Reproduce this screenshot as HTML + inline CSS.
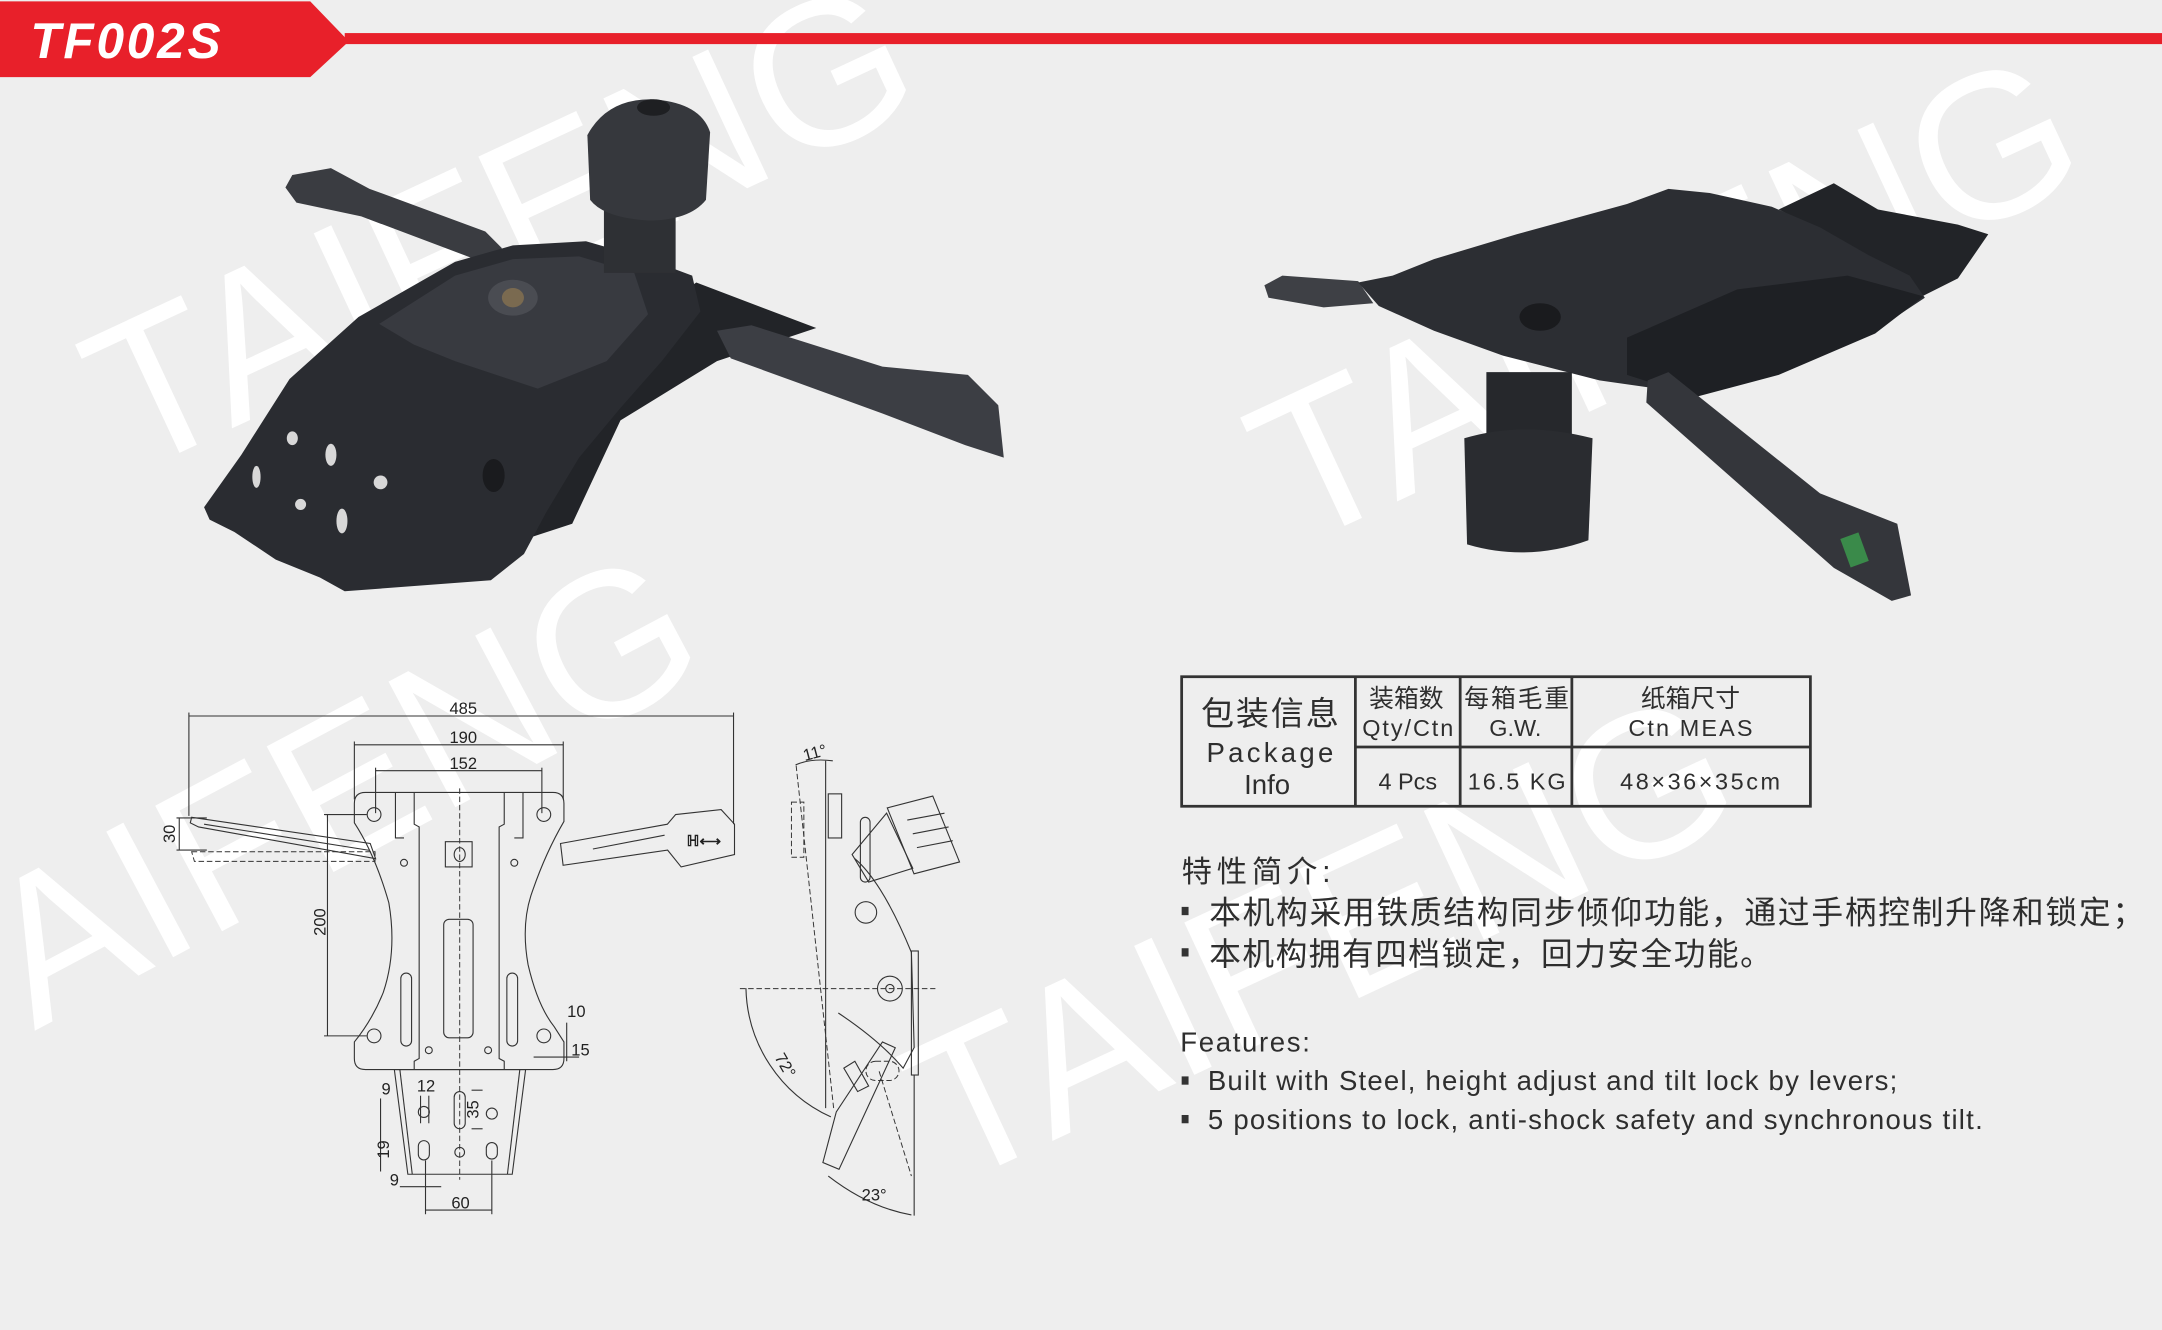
<!DOCTYPE html>
<html><head><meta charset="utf-8"><style>
html,body{margin:0;padding:0;background:#eeeeee;}
body{width:2162px;height:1330px;overflow:hidden;}
svg{display:block;}
text{font-family:"Liberation Sans","Noto Sans CJK SC",sans-serif;fill:#2e2e2e;}
.d{stroke:#333;stroke-width:0.8;fill:none;}
.dd{stroke:#333;stroke-width:0.7;fill:none;stroke-dasharray:4 2;}
.dim{font-size:12px;fill:#222;}
</style></head><body>
<svg width="2162" height="1330" viewBox="0 0 1568 965" preserveAspectRatio="none" xmlns="http://www.w3.org/2000/svg">
<rect width="1568" height="965" fill="#eeeeee"/>
<!-- watermarks -->
<g fill="#ffffff" style="font-family:'Liberation Sans',sans-serif;font-size:150px;">
<text x="95" y="345" transform="rotate(-25 95 345)" fill="#fff" style="fill:#fff">TAIFENG</text>
<text x="940" y="398" transform="rotate(-25 940 398)" style="fill:#fff">TAIFENG</text>
<text x="25" y="748" transform="rotate(-28 25 748)" style="fill:#fff">AIFENG</text>
<text x="690" y="862" transform="rotate(-25 690 862)" style="fill:#fff">TAIFENG</text>
</g>
<!-- header -->
<polygon points="0,1 225,1 253,30 225,56 0,56" fill="#e8202a"/>
<rect x="250" y="24" width="1318" height="8" fill="#e8202a"/>
<text x="22" y="42" style="fill:#fff;font-size:36px;font-weight:bold;font-style:italic" textLength="138">TF002S</text>

<!-- left product -->
<g>
<polygon points="207,136 212,127 240,122 268,137 352,168 364,180 355,192 262,157 215,147" fill="#3a3c41"/>
<polygon points="380,290 505,205 592,238 520,262 450,305 415,380 360,398" fill="#222428"/>
<polygon points="148,368 175,330 210,275 260,230 330,190 372,178 425,175 470,188 502,200 508,226 480,262 450,296 420,332 396,372 380,402 356,421 250,429 232,419 200,406 170,386 152,377" fill="#2a2c31"/>
<polygon points="275,235 330,200 372,188 420,186 460,198 470,228 440,262 390,282 330,262 300,250" fill="#383a40"/>
<ellipse cx="372" cy="216" rx="18" ry="13" fill="#4a4c52"/>
<ellipse cx="372" cy="216" rx="8" ry="7" fill="#7a6a50"/>
<polygon points="520,240 545,236 640,266 702,272 724,294 728,332 700,323 640,300 530,260" fill="#3c3e44"/>
<rect x="438" y="140" width="52" height="58" fill="#2e3034"/>
<path d="M426,98 Q440,72 472,72 Q508,74 515,96 L512,145 Q500,160 470,160 Q438,158 428,145 Z" fill="#36383d"/>
<ellipse cx="474" cy="78" rx="12" ry="6" fill="#1e1f22"/>
<g fill="#d8d8d8"><ellipse cx="212" cy="318" rx="4" ry="5"/><ellipse cx="240" cy="330" rx="4" ry="8"/><ellipse cx="186" cy="346" rx="3" ry="8"/><ellipse cx="218" cy="366" rx="4" ry="4"/><ellipse cx="248" cy="378" rx="4" ry="9"/><ellipse cx="276" cy="350" rx="5" ry="5"/></g>
<ellipse cx="358" cy="345" rx="8" ry="12" fill="#1a1b1e"/>
</g>

<!-- right product -->
<g>
<polygon points="1290,152 1330,133 1362,152 1420,163 1442,170 1420,202 1392,216 1360,188" fill="#222428"/>
<polygon points="917,207 930,200 985,204 996,220 960,223 920,216" fill="#3e4045"/>
<polygon points="985,205 1010,200 1040,188 1100,170 1180,148 1210,137 1240,140 1285,150 1320,165 1355,185 1385,200 1396,216 1360,240 1290,270 1230,286 1160,276 1090,258 1040,240 1000,222" fill="#2c2e33"/>
<polygon points="1180,245 1260,210 1340,200 1395,215 1360,242 1290,272 1230,288 1180,272" fill="#1e2024"/>
<ellipse cx="1117" cy="230" rx="15" ry="10" fill="#1a1b1e"/>
<rect x="1078" y="270" width="62" height="50" fill="#26282c"/>
<path d="M1062,318 Q1105,305 1155,318 L1152,392 Q1108,408 1064,395 Z" fill="#2a2c30"/>
<polygon points="1195,276 1210,270 1320,358 1376,380 1386,432 1372,436 1330,412 1194,292" fill="#34363b"/>
<rect x="1338" y="388" width="14" height="22" fill="#3a8a4a" transform="rotate(-20 1345 399)"/>
</g>

<!-- plan drawing -->
<g>
<line class="d" x1="137" y1="519.5" x2="532" y2="519.5"/>
<line class="d" x1="137" y1="517" x2="137" y2="592"/>
<line class="d" x1="532" y1="517" x2="532" y2="598"/>
<line class="d" x1="257" y1="540.4" x2="408.5" y2="540.4"/>
<line class="d" x1="257" y1="538" x2="257" y2="580"/>
<line class="d" x1="408.5" y1="538" x2="408.5" y2="580"/>
<line class="d" x1="272.4" y1="559.2" x2="393" y2="559.2"/>
<line class="d" x1="272.4" y1="557" x2="272.4" y2="590"/>
<line class="d" x1="393" y1="557" x2="393" y2="590"/>
<text class="dim" x="336" y="518" text-anchor="middle">485</text>
<text class="dim" x="336" y="539" text-anchor="middle">190</text>
<text class="dim" x="336" y="558" text-anchor="middle">152</text>
<path class="d" d="M265,575 L401,575 Q409,575 409,583 L409,596 Q395,620 385,650 Q378,672 383,700 Q390,730 402,745 L409,756 L409,768 Q409,776 401,776 L265,776 Q257,776 257,768 L257,756 Q270,740 278,720 Q288,690 282,655 Q272,620 257,597 L257,583 Q257,575 265,575 Z"/>
<circle class="d" cx="271.3" cy="591" r="5"/><circle class="d" cx="394.4" cy="591" r="5"/>
<circle class="d" cx="271.3" cy="751.6" r="5"/><circle class="d" cx="394.4" cy="751.6" r="5"/>
<line class="dd" x1="333.4" y1="572" x2="333.4" y2="856" stroke-dasharray="12 3 2 3"/>
<polyline class="d" points="300.4,575 300.4,598 304,600 304,768 300.4,770 300.4,776"/>
<polyline class="d" points="365.7,575 365.7,598 362,600 362,768 365.7,770 365.7,776"/>
<polyline class="d" points="286.8,575 286.8,608 293,608"/>
<polyline class="d" points="379.3,575 379.3,608 373,608"/>
<rect class="d" x="323" y="610.7" width="19.4" height="18.3"/>
<ellipse class="d" cx="333.4" cy="620" rx="4" ry="5"/>
<rect class="d" x="321.8" y="667" width="21.3" height="86" rx="4"/>
<rect class="d" x="290.7" y="706" width="7.8" height="53" rx="3.9"/>
<rect class="d" x="367.6" y="706" width="7.8" height="53" rx="3.9"/>
<circle class="d" cx="293" cy="626" r="2.5"/><circle class="d" cx="373" cy="626" r="2.5"/>
<circle class="d" cx="311" cy="762" r="2.5"/><circle class="d" cx="354" cy="762" r="2.5"/>
<polygon class="d" points="286,776 381.2,776 371.5,852 295.8,852"/>
<line class="d" x1="290" y1="776" x2="299" y2="852"/><line class="d" x1="377" y1="776" x2="368" y2="852"/>
<circle class="d" cx="307.4" cy="806.8" r="4"/>
<rect class="d" x="329.4" y="792" width="8" height="27" rx="4"/>
<circle class="d" cx="356.7" cy="808" r="4"/>
<rect class="d" x="303.4" y="827.6" width="8" height="14" rx="4"/>
<circle class="d" cx="333.4" cy="836" r="3.5"/>
<rect class="d" x="352.7" y="829" width="8" height="12" rx="4"/>
<!-- levers -->
<polygon class="d" points="139,593 268.5,612 272.4,623 144,600 138,597"/>
<line class="d" x1="148" y1="598" x2="268" y2="617"/>
<polygon class="dd" points="139,618 272,618 272,625 141,625"/>
<polygon class="d" points="406.5,612 484,598 490,591 523,587.4 532.7,598 532.7,620 494,629 484.2,616.8 408.4,627.8"/>
<line class="d" x1="430" y1="616" x2="482" y2="606"/>
<text x="498" y="614" style="font-size:11px;font-weight:bold;fill:#222">ℍ⟷</text>
<!-- dims -->
<line class="d" x1="237.5" y1="591" x2="237.5" y2="751.6"/>
<line class="d" x1="235" y1="591" x2="266" y2="591"/><line class="d" x1="235" y1="751.6" x2="266" y2="751.6"/>
<text class="dim" x="0" y="0" transform="translate(236,669) rotate(-90)" text-anchor="middle">200</text>
<line class="d" x1="128" y1="593.5" x2="150" y2="593.5"/><line class="d" x1="128" y1="616.8" x2="150" y2="616.8"/>
<line class="d" x1="130" y1="593.5" x2="130" y2="616.8"/>
<text class="dim" x="0" y="0" transform="translate(127,605) rotate(-90)" text-anchor="middle">30</text>
<text class="dim" x="418" y="738" text-anchor="middle">10</text>
<text class="dim" x="421" y="766" text-anchor="middle">15</text>
<line class="d" x1="411" y1="742" x2="411" y2="770"/><line class="d" x1="387" y1="767" x2="420" y2="767"/>
<text class="dim" x="280" y="794" text-anchor="middle">9</text>
<text class="dim" x="309" y="792" text-anchor="middle">12</text>
<line class="d" x1="276" y1="797" x2="276" y2="850"/><line class="d" x1="305" y1="795" x2="305" y2="815"/><line class="d" x1="311" y1="795" x2="311" y2="815"/>
<text class="dim" x="0" y="0" transform="translate(347,805) rotate(-90)" text-anchor="middle">35</text>
<line class="d" x1="342" y1="791" x2="350" y2="791"/><line class="d" x1="342" y1="819" x2="350" y2="819"/>
<text class="dim" x="0" y="0" transform="translate(282,834) rotate(-90)" text-anchor="middle">19</text>
<text class="dim" x="286" y="860" text-anchor="middle">9</text>
<line class="d" x1="290" y1="861" x2="320" y2="861"/>
<line class="d" x1="308.6" y1="842" x2="308.6" y2="881"/><line class="d" x1="356.7" y1="842" x2="356.7" y2="881"/>
<line class="d" x1="308.6" y1="878" x2="356.7" y2="878"/>
<text class="dim" x="334" y="877" text-anchor="middle">60</text>
</g>

<!-- side drawing -->
<g>
<line class="d" x1="598.8" y1="552" x2="598.8" y2="804"/>
<line class="dd" x1="577.4" y1="555.5" x2="604.6" y2="804"/>
<path class="d" d="M577,555 Q588,550 604,552"/>
<text class="dim" x="0" y="0" transform="translate(592,550) rotate(-15)" text-anchor="middle">11°</text>
<rect class="d" x="600.7" y="576" width="9.7" height="32"/>
<rect class="dd" x="574" y="582" width="9" height="40"/>
<polygon class="d" points="643.5,586.2 676.5,577.6 695.9,625.4 662.9,634"/>
<line class="d" x1="658" y1="595" x2="685" y2="590"/><line class="d" x1="662" y1="605" x2="688" y2="600"/><line class="d" x1="665" y1="615" x2="691" y2="610"/>
<polygon class="d" points="618,620 643,590 662,630 630,640"/>
<rect class="d" x="624" y="593" width="7" height="47" rx="3.5"/>
<circle class="d" cx="628" cy="662" r="7.8"/>
<path class="d" d="M620,623 Q640,640 661,691 L663,760 L655,775 Q638,755 608,735"/>
<rect class="d" x="661" y="690" width="5" height="90"/>
<line class="dd" x1="536.6" y1="717.3" x2="678.4" y2="717.3" stroke-dasharray="10 3 2 3"/>
<circle class="d" cx="645.4" cy="717.3" r="9"/><circle class="d" cx="645.4" cy="717.3" r="3"/>
<path class="d" d="M541,717 A105,105 0 0 0 602.6,810.4"/>
<text class="dim" x="0" y="0" transform="translate(566,775) rotate(60)" text-anchor="middle">72°</text>
<polygon class="d" points="606.5,806.8 596.8,843.5 608.5,848.4 649.3,760.2 640,756"/>
<polygon class="d" points="612,775 620,770 630,788 622,792"/>
<line class="dd" x1="637.6" y1="777.3" x2="661" y2="853.3"/>
<rect class="dd" x="628" y="770" width="24" height="14" rx="7"/>
<line class="d" x1="663" y1="780" x2="663" y2="882"/>
<path class="d" d="M600.7,853.3 Q630,876 661,881.5"/>
<text class="dim" x="634" y="871" text-anchor="middle">23°</text>
</g>

<!-- table -->
<g stroke="#333" stroke-width="2" fill="none">
<rect x="857" y="491" width="456" height="94"/>
<line x1="983" y1="491" x2="983" y2="585"/>
<line x1="1059" y1="491" x2="1059" y2="585"/>
<line x1="1140" y1="491" x2="1140" y2="585"/>
<line x1="983" y1="542" x2="1313" y2="542"/>
</g>
<text x="921" y="526" text-anchor="middle" style="font-size:24px" textLength="100">包装信息</text>
<text x="921" y="553" text-anchor="middle" style="font-size:20px" textLength="92">Package</text>
<text x="919" y="576" text-anchor="middle" style="font-size:20px">Info</text>
<text x="1020" y="513" text-anchor="middle" style="font-size:18px">装箱数</text>
<text x="1021" y="534" text-anchor="middle" style="font-size:17px" textLength="66">Qty/Ctn</text>
<text x="1100" y="513" text-anchor="middle" style="font-size:18px" textLength="76">每箱毛重</text>
<text x="1099" y="534" text-anchor="middle" style="font-size:17px">G.W.</text>
<text x="1226" y="513" text-anchor="middle" style="font-size:18px">纸箱尺寸</text>
<text x="1226" y="534" text-anchor="middle" style="font-size:17px" textLength="90">Ctn MEAS</text>
<text x="1021" y="573" text-anchor="middle" style="font-size:17px">4 Pcs</text>
<text x="1100" y="573" text-anchor="middle" style="font-size:17px" textLength="71">16.5 KG</text>
<text x="1233" y="573" text-anchor="middle" style="font-size:17px" textLength="116">48×36×35cm</text>

<!-- features -->
<text x="857" y="640" style="font-size:22px" textLength="108">特性简介:</text>
<rect x="857" y="658" width="5" height="6" fill="#333"/>
<text x="877" y="670" style="font-size:23px" textLength="678">本机构采用铁质结构同步倾仰功能，通过手柄控制升降和锁定；</text>
<rect x="857" y="688" width="5" height="6" fill="#333"/>
<text x="877" y="700" style="font-size:23px" textLength="408">本机构拥有四档锁定，回力安全功能。</text>
<text x="856" y="763" style="font-size:20px" textLength="94">Features:</text>
<rect x="857" y="781" width="5" height="6" fill="#333"/>
<text x="876" y="791" style="font-size:20px" textLength="500">Built with Steel, height adjust and tilt lock by levers;</text>
<rect x="857" y="809" width="5" height="6" fill="#333"/>
<text x="876" y="819" style="font-size:20px" textLength="562">5 positions to lock, anti-shock safety and synchronous tilt.</text>
</svg>
</body></html>
